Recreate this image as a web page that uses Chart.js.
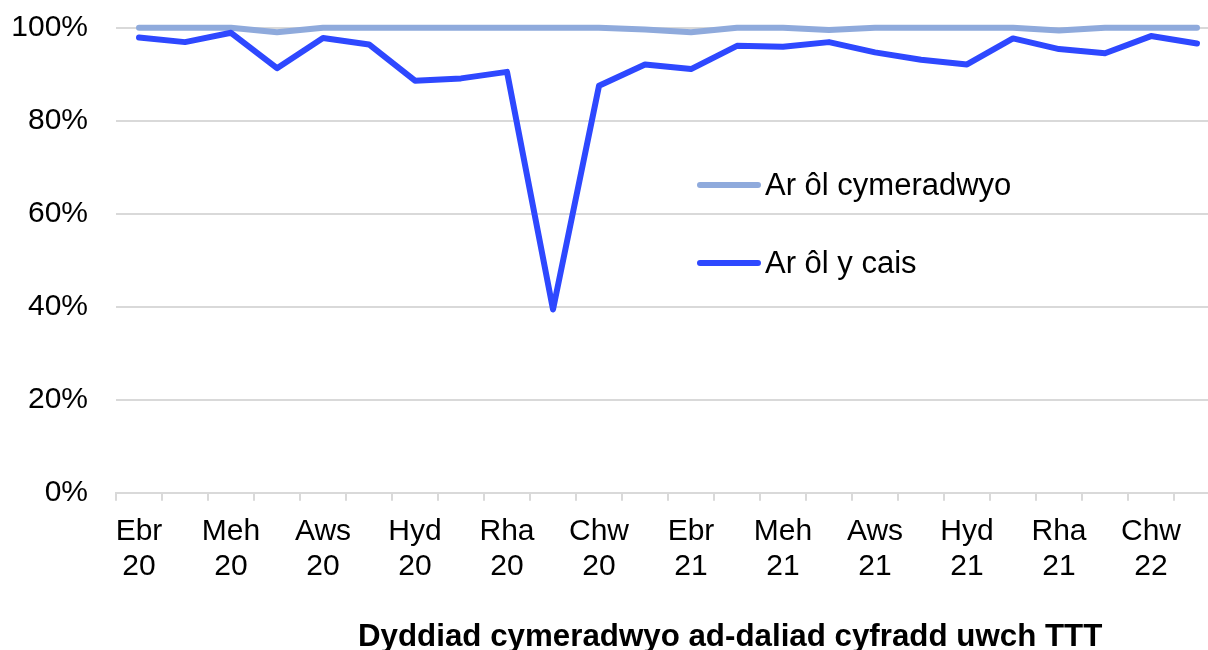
<!DOCTYPE html>
<html>
<head>
<meta charset="utf-8">
<script src="https://cdn.jsdelivr.net/npm/chart.js@4"></script>
<style>
  html, body { margin: 0; padding: 0; background: #fff; overflow: hidden; }
  #wrap { position: absolute; left: 0; top: 0; width: 1224px; height: 650px; }
  .leg { position: absolute; left: 697px; display: flex; align-items: center;
         font: 31px "Liberation Sans", Arial, sans-serif; line-height: 30px; color: #000; }
  .leg span.ln { display: inline-block; width: 64px; height: 6px; border-radius: 3px; margin-right: 4px; }
  #titulo { position: absolute; left: 358px; top: 621px; white-space: nowrap;
            font: bold 31.3px "Liberation Sans", Arial, sans-serif; line-height: 30px; color: #000; }
</style>
</head>
<body>
<div id="wrap"><canvas id="grafico" width="1224" height="650"></canvas></div>
<div class="leg" style="top:170px"><span class="ln" style="background:#8faadc"></span>Ar ôl cymeradwyo</div>
<div class="leg" style="top:248px"><span class="ln" style="background:#2e48ff"></span>Ar ôl y cais</div>
<div id="titulo">Dyddiad cymeradwyo ad-daliad cyfradd uwch TTT</div>
<script>
  // meses Ebr 2020 - Maw 2022
  const meses = ['Ebr 20','Mai 20','Meh 20','Gor 20','Aws 20','Med 20','Hyd 20','Tach 20','Rha 20','Ion 21','Chw 21','Maw 21',
                 'Ebr 21','Mai 21','Meh 21','Gor 21','Aws 21','Med 21','Hyd 21','Tach 21','Rha 21','Ion 22','Chw 22','Maw 22'];
  // etiquetas que se ven en el eje (una de cada dos)
  const etiquetas = [['Ebr','20'],['Meh','20'],['Aws','20'],['Hyd','20'],['Rha','20'],['Chw','20'],
                     ['Ebr','21'],['Meh','21'],['Aws','21'],['Hyd','21'],['Rha','21'],['Chw','22']];
  const arOlCymeradwyo = [100,100,100,99.0,100,100,100,100,100,100,100,99.6,99.0,100,100,99.5,100,100,100,100,99.4,100,100,100];
  const arOlYCais = [97.9,96.9,98.9,91.3,97.8,96.4,88.6,89.1,90.5,39.4,87.5,92.1,91.1,96.1,95.9,96.9,94.7,93.1,92.1,97.7,95.4,94.5,98.2,96.6];
  const ticksY = [0,20,40,60,80,100];

  const fuente = { family: '"Liberation Sans", Arial, sans-serif', size: 30 };

  new Chart(document.getElementById('grafico').getContext('2d'), {
    type: 'line',
    data: {
      labels: meses,
      datasets: [{
        label: 'Ar ôl y cais',
        data: arOlYCais,
        borderColor: '#2e48ff',
        borderWidth: 6,
        clip: false,
        order: 0
      }, {
        label: 'Ar ôl cymeradwyo',
        data: arOlCymeradwyo,
        borderColor: '#8faadc',
        borderWidth: 6,
        clip: false,
        order: 1
      }]
    },
    options: {
      responsive: false,
      animation: false,
      layout: { padding: { left: 0, top: 27.7, right: 4, bottom: 0 } },
      elements: {
        point: { radius: 0 },
        line: { tension: 0, borderCapStyle: 'round', borderJoinStyle: 'round' }
      },
      plugins: { legend: { display: false }, tooltip: { enabled: false } },
      scales: {
        x: {
          offset: true,
          grid: { offset: true, drawOnChartArea: false, color: '#d9d9d9', lineWidth: 2, tickLength: 8 },
          border: { display: true, color: '#d9d9d9', width: 2 },
          ticks: {
            autoSkip: false, maxRotation: 0, color: '#000', padding: 14,
            font: { ...fuente, lineHeight: 1.1667 },
            callback: (v, i) => i % 2 === 0 ? etiquetas[i / 2] : ''
          },
          afterFit: s => { s.height = 650 - 492.7; }
        },
        y: {
          min: 0, max: 100,
          afterBuildTicks: s => { s.ticks = ticksY.map(v => ({ value: v })); },
          grid: { color: '#d9d9d9', lineWidth: 2, drawTicks: false },
          border: { display: false },
          ticks: { color: '#000', padding: 28, font: fuente, callback: v => v + '%' },
          afterFit: s => { s.width = 116; s.paddingTop = 0; s.paddingBottom = 0; }
        }
      }
    }
  });
</script>
</body>
</html>
